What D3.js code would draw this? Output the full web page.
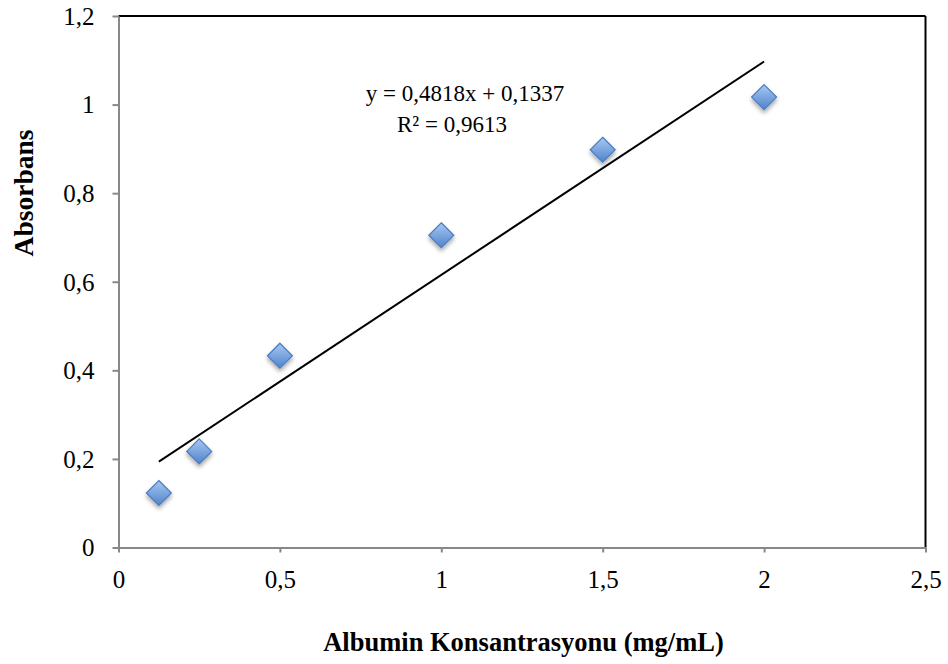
<!DOCTYPE html>
<html><head><meta charset="utf-8">
<script src="https://cdn.jsdelivr.net/npm/d3@7"></script>
<style>body{margin:0;background:#fff}svg{display:block}text{font-family:"Liberation Serif","Times New Roman",serif;fill:#000}</style>
</head><body>
<svg id="c" width="948" height="664"></svg>
<script>
const concentrations = [0.125, 0.25, 0.5, 1, 1.5, 2];
const absorbances = [0.123, 0.217, 0.433, 0.705, 0.898, 1.017];
const xTicks = [0, 0.5, 1, 1.5, 2, 2.5];
const yTicks = [0, 0.2, 0.4, 0.6, 0.8, 1, 1.2];
const slope = 0.4818, intercept = 0.1337;
const equationLines = ["y = 0,4818x + 0,1337", "R² = 0,9613"];
const xTitle = "Albumin Konsantrasyonu (mg/mL)";
const yTitle = "Absorbans";

const svg = d3.select("#c");
const L = 118.5, R = 925.5, T = 16, B = 547.5;
const x = d3.scaleLinear().domain([0, 2.5]).range([L, R]);
const y = d3.scaleLinear().domain([0, 1.2]).range([B, T]);
const fmt = v => String(v).replace(".", ",");

const defs = svg.append("defs");
const g = defs.append("linearGradient").attr("id", "dg").attr("x1", 0).attr("y1", 0).attr("x2", 0).attr("y2", 1);
g.append("stop").attr("offset", "0%").attr("stop-color", "#a8c8f2");
g.append("stop").attr("offset", "100%").attr("stop-color", "#4f83cc");
const f = defs.append("filter").attr("id", "sh").attr("x", "-50%").attr("y", "-50%").attr("width", "200%").attr("height", "200%");
f.append("feDropShadow").attr("dx", 0).attr("dy", 3).attr("stdDeviation", 2).attr("flood-color", "#000").attr("flood-opacity", 0.35);

// frame top/right
svg.append("line").attr("x1", L).attr("x2", R).attr("y1", T).attr("y2", T).attr("stroke", "#000").attr("stroke-width", 2);
svg.append("line").attr("x1", R).attr("x2", R).attr("y1", T).attr("y2", B).attr("stroke", "#000").attr("stroke-width", 2);

// axes
const xAxis = svg.append("g").attr("transform", `translate(0,${B})`)
  .call(d3.axisBottom(x).tickValues(xTicks).tickFormat(fmt).tickSize(5).tickSizeOuter(0));
const yAxis = svg.append("g").attr("transform", `translate(${L},0)`)
  .call(d3.axisLeft(y).tickValues(yTicks).tickFormat(fmt).tickSize(6).tickSizeOuter(0));
[xAxis, yAxis].forEach(a => {
  a.attr("font-size", 25).attr("font-family", "Liberation Serif");
  a.select(".domain").attr("stroke", "#888").attr("stroke-width", 2);
  a.selectAll(".tick line").attr("stroke", "#888").attr("stroke-width", 2);
  a.selectAll("text").attr("fill", "#000");
});
xAxis.selectAll("text").attr("dy", null).attr("y", 40.5);
yAxis.selectAll("text").attr("x", -24).attr("dy", "0.33em");

// trendline
svg.append("line")
  .attr("x1", x(concentrations[0])).attr("y1", y(slope * concentrations[0] + intercept))
  .attr("x2", x(concentrations[concentrations.length - 1])).attr("y2", y(slope * concentrations[concentrations.length - 1] + intercept))
  .attr("stroke", "#000").attr("stroke-width", 2);

// markers
const s = 12.5;
svg.append("g").selectAll("path").data(concentrations).join("path")
  .attr("d", `M0,${-s}L${s},0L0,${s}L${-s},0Z`)
  .attr("transform", (d, i) => `translate(${x(d)},${y(absorbances[i])})`)
  .attr("fill", "url(#dg)").attr("stroke", "#4a7dc0").attr("stroke-width", 1.2)
  .attr("filter", "url(#sh)");

// equation
svg.append("text").attr("x", 465).attr("y", 101).attr("text-anchor", "middle").attr("font-size", 23).text(equationLines[0]);
svg.append("text").attr("x", 452).attr("y", 132).attr("text-anchor", "middle").attr("font-size", 23).text(equationLines[1]);

// titles
svg.append("text").attr("x", 523.5).attr("y", 651).attr("text-anchor", "middle")
  .attr("font-size", 26.5).attr("font-weight", "bold").text(xTitle);
svg.append("text").attr("transform", "translate(33,193) rotate(-90)").attr("text-anchor", "middle")
  .attr("font-size", 27.5).attr("font-weight", "bold").text(yTitle);
</script>
</body></html>
